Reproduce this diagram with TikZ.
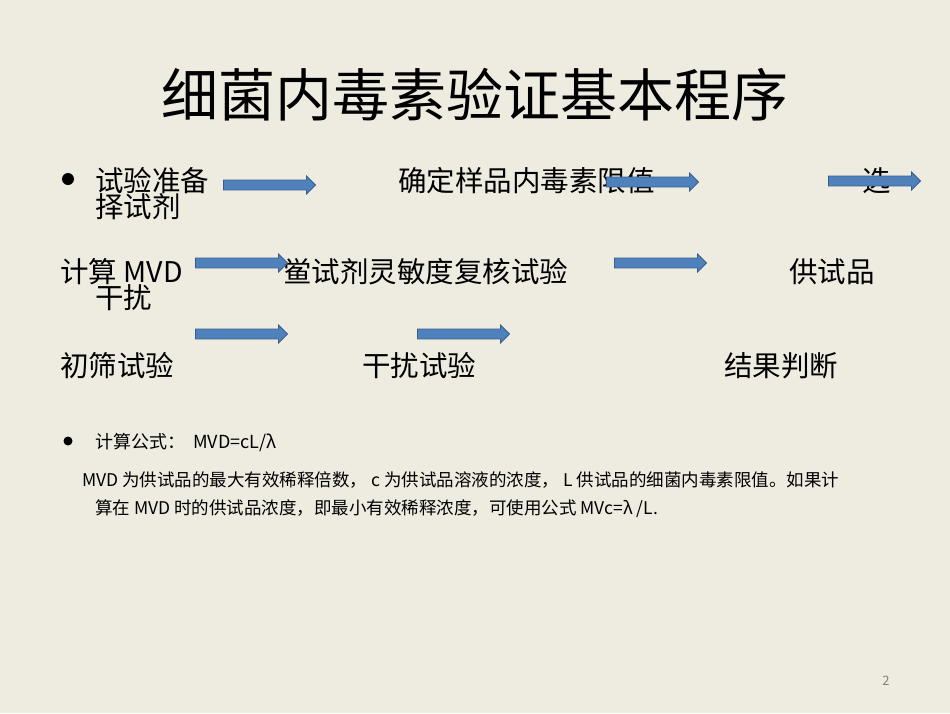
\documentclass[tikz,border=0pt]{standalone}
\usepackage{fontspec}
\setmainfont{Noto Sans CJK SC}
\usetikzlibrary{shapes.arrows}
\definecolor{bg}{RGB}{238,236,225}
\definecolor{arfill}{RGB}{79,129,189}
\definecolor{ardraw}{RGB}{56,93,138}
\tikzset{
 barrow/.style={single arrow, draw=ardraw, line width=0.8pt, fill=arfill, minimum height=92pt, minimum width=18pt, single arrow head extend=4pt, single arrow head indent=0pt, inner xsep=0pt, inner ysep=4.5pt},
 big/.style={anchor=west, inner sep=0, font=\fontsize{28.5}{30}\selectfont},
 small/.style={anchor=west, inner sep=0, font=\fontsize{18}{20}\selectfont},
 desc/.style={anchor=west, inner sep=0, font=\fontsize{17.5}{19}\selectfont},
}
\begin{document}
\begin{tikzpicture}[x=1pt,y=-1pt]
\fill[bg] (0,0) rectangle (950,713);
\useasboundingbox (0,0) rectangle (950,713);
\node[inner sep=0,font=\fontsize{57}{60}\selectfont] (title) at (475,95) {细菌内毒素验证基本程序};
\fill (68,179) circle (6);
\node[big] (t1) at (95,181) {试验准备};
\node[big] (t1b) at (95,207) {择试剂};
\node[big] (t2) at (398,181) {确定样品内毒素限值};
\node[big] (t3) at (862,181) {选};
\node[big] (r1) at (60,272) {计算 MVD};
\node[big] (r2) at (283,272) {鲎试剂灵敏度复核试验};
\node[big] (r3) at (789,272) {供试品};
\node[big] (r4) at (95,298) {干扰};
\node[big] (s1) at (60,366) {初筛试验};
\node[big] (s2) at (362,366) {干扰试验};
\node[big] (s3) at (724,366) {结果判断};
\node[barrow] (a1) at (267,185) {};
\node[barrow] (a2) at (650,182) {};
\node[barrow] (a3) at (872,181) {};
\node[barrow] (a4) at (239,263) {};
\node[barrow] (a5) at (658,263) {};
\node[barrow] (a6) at (239,334) {};
\node[barrow] (a7) at (461,334) {};
\fill (68,441) circle (4.5);
\node[small] (f) at (95,442) {计算公式：\ \ MVD=cL/λ};
\node[desc] (d1) at (82,480) {MVD 为供试品的最大有效稀释倍数， c 为供试品溶液的浓度， L 供试品的细菌内毒素限值。如果计};
\node[desc] (d2) at (95,509) {算在 MVD 时的供试品浓度，即最小有效稀释浓度，可使用公式 MVc=λ /L.};
\node[inner sep=0,text=gray,font=\fontsize{13}{15}\selectfont] (pg) at (886,681) {2};
\end{tikzpicture}
\end{document}
